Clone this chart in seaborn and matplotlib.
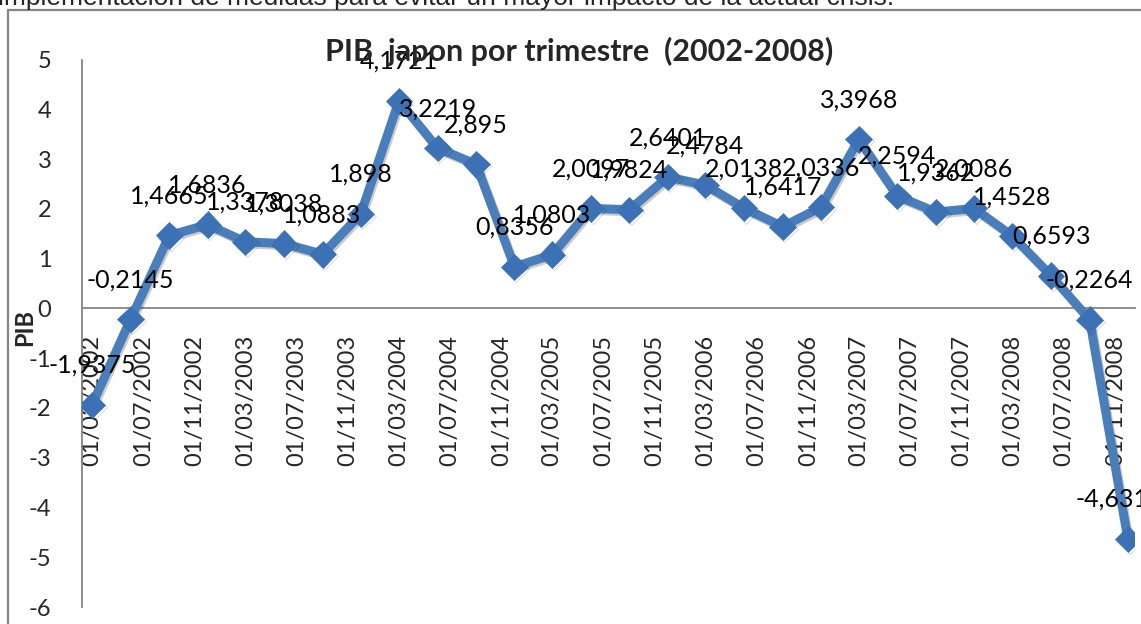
import pandas as pd
import numpy as np
import matplotlib
matplotlib.use('Agg')
import matplotlib.pyplot as plt
import matplotlib.dates as mdates
import matplotlib.patheffects as pe
from matplotlib.lines import Line2D
import seaborn as sns

# Quarterly dates (dd/mm/yyyy) and PIB values
fechas = ['01/03/2002', '01/06/2002', '01/09/2002', '01/12/2002',
          '01/03/2003', '01/06/2003', '01/09/2003', '01/12/2003',
          '01/03/2004', '01/06/2004', '01/09/2004', '01/12/2004',
          '01/03/2005', '01/06/2005', '01/09/2005', '01/12/2005',
          '01/03/2006', '01/06/2006', '01/09/2006', '01/12/2006',
          '01/03/2007', '01/06/2007', '01/09/2007', '01/12/2007',
          '01/03/2008', '01/06/2008', '01/09/2008', '01/12/2008']
pib = [-1.9375, -0.2145, 1.4665, 1.6836,
       1.3378, 1.3038, 1.0883, 1.898,
       4.1721, 3.2219, 2.895, 0.8356,
       1.0803, 2.0097, 1.9824, 2.6401,
       2.4784, 2.0138, 1.6417, 2.0336,
       3.3968, 2.2594, 1.9362, 2.0086,
       1.4528, 0.6593, -0.2264, -4.631]
etiquetas = [str(v).replace('.', ',') for v in pib]

titulo = 'PIB  japon por trimestre  (2002-2008)'
texto_arriba = 'implementación de medidas para evitar un mayor impacto de la actual crisis.'

df = pd.DataFrame({'fecha': pd.to_datetime(fechas, format='%d/%m/%Y'), 'PIB': pib})

sns.set_style('white')
plt.rcParams['font.family'] = ['Lato', 'DejaVu Sans']
plt.rcParams['axes.unicode_minus'] = False

linea_color = '#4a7ebb'
marca_color = '#3c71b6'
gris = '#868686'

fig = plt.figure(figsize=(11.41, 6.24), dpi=100)
ax = fig.add_axes([82 / 1141, 1 - 607 / 624, (1135 - 82) / 1141, (607 - 59.6) / 624])

sns.lineplot(data=df, x='fecha', y='PIB', ax=ax, color=linea_color, linewidth=6.5,
             marker='D', markersize=13.5, markerfacecolor=marca_color,
             markeredgecolor=marca_color, markeredgewidth=0.5, zorder=3)
for ln in ax.lines:
    ln.set_path_effects([pe.SimpleLineShadow(offset=(1.2, -1.5), alpha=0.2), pe.Normal()])

# data labels (above each point); the last one is pushed left like in Excel
n = len(pib)
for i, (x, y, t) in enumerate(zip(df['fecha'], df['PIB'], etiquetas)):
    if i == n - 1:
        ax.annotate(t, (x, y), xytext=(-38, 23), textcoords='offset points',
                    ha='left', va='baseline', fontsize=18, color='black',
                    annotation_clip=False, zorder=4)
    else:
        ax.annotate(t, (x, y), xytext=(0, 23), textcoords='offset points',
                    ha='center', va='baseline', fontsize=18, color='black',
                    annotation_clip=False, zorder=4)

ax.set_ylim(-6, 5)
ax.set_yticks(range(-6, 6))
ax.set_xlim(pd.Timestamp('2002-02-05'), pd.Timestamp('2008-12-18'))
ax.xaxis.set_major_locator(mdates.MonthLocator(bymonth=[3, 7, 11]))
ax.xaxis.set_major_formatter(mdates.DateFormatter('%d/%m/%Y'))

ax.spines['top'].set_visible(False)
ax.spines['right'].set_visible(False)
ax.spines['bottom'].set_position(('data', 0))
for s in ['left', 'bottom']:
    ax.spines[s].set_color(gris)
    ax.spines[s].set_linewidth(1.3)
ax.tick_params(axis='x', length=0, pad=19, labelsize=17, labelrotation=90)
ax.tick_params(axis='y', length=0, pad=22, labelsize=17)
for lab in ax.get_xticklabels():
    lab.set_va('top')
ax.set_xlabel('')
ax.set_ylabel('')
ax.patch.set_alpha(0)

fig.text(25 / 1141, 1 - 328 / 624, 'PIB', rotation=90, fontsize=17, fontweight='bold',
         ha='center', va='center')
fig.text(579 / 1141, 1 - 51 / 624, titulo, fontsize=22, fontweight='bold',
         ha='center', va='center')
fig.text(-2 / 1141, 1 - 5 / 624, texto_arriba, fontsize=19, va='baseline', ha='left',
         family=['Liberation Sans', 'DejaVu Sans'])

# outer chart frame (partially cropped in the original)
fig.add_artist(Line2D([7.5 / 1141, 7.5 / 1141], [0, 1 - 10 / 624], color=gris, lw=1.6,
                      transform=fig.transFigure))
fig.add_artist(Line2D([7.5 / 1141, 1], [1 - 10 / 624, 1 - 10 / 624], color=gris, lw=1.6,
                      transform=fig.transFigure))

fig.savefig('out.png', dpi=100)
